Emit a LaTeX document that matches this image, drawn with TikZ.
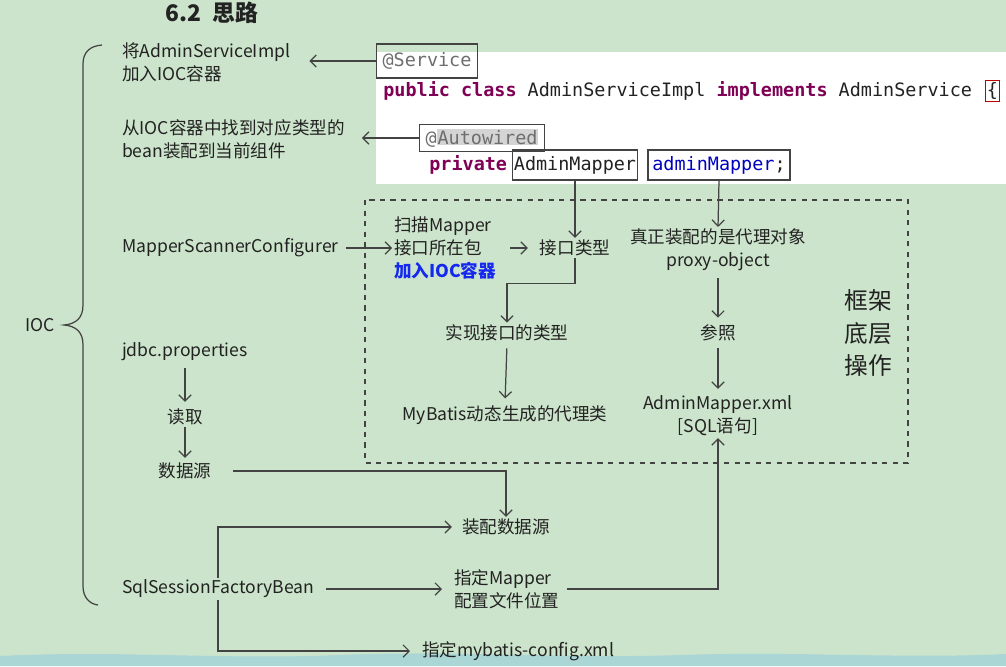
\documentclass[tikz,border=0pt]{standalone}
\usepackage{fontspec}
\setmainfont{Noto Sans CJK SC}
\setmonofont{DejaVu Sans Mono}
\usetikzlibrary{positioning,arrows.meta}

\definecolor{bggreen}{RGB}{204,228,203}
\definecolor{bandblue}{RGB}{170,214,214}
\definecolor{ink}{RGB}{34,34,34}
\definecolor{kwred}{RGB}{127,0,85}
\definecolor{anngray}{RGB}{110,110,110}
\definecolor{selgray}{RGB}{212,212,212}
\definecolor{varblue}{RGB}{0,0,192}
\definecolor{linkblue}{RGB}{20,40,240}

\newcommand{\kw}[1]{\textcolor{kwred}{\bfseries #1}}

\begin{document}
\begin{tikzpicture}[x=0.02cm, y=-0.02cm,
    txt/.style={inner sep=1pt, align=left, text=ink, font=\fontsize{10}{13}\selectfont},
    code/.style={inner sep=0pt, text=ink, font=\ttfamily\fontsize{10.5}{12}\selectfont},
    codebox/.style={code, draw=ink!85, line width=0.7pt, minimum height=0.6cm},
    line/.style={draw=ink!85, line width=0.7pt},
    >={Straight Barb[length=3.5pt,width=7pt]}
]
    \clip (0,0) rectangle (1006,666);

    % Background, code panel and bottom band
    \fill[bggreen] (0,0) rectangle (1006,666);
    \fill[white] (376,52) rectangle (1006,184);
    \fill[bandblue] (0,666) -- (0,656) .. controls (120,650) and (220,660) .. (340,655)
        .. controls (460,650) and (560,659) .. (680,655)
        .. controls (800,651) and (900,659) .. (1006,654) -- (1006,666) -- cycle;

    % Title
    \node[text=ink, font=\bfseries\fontsize{13}{15}\selectfont] (title) at (212,13) {6.2\enspace 思路};

    % Code
    \node[codebox, minimum width=2.02cm, minimum height=0.68cm] (svc) at (427,61)
        {\textcolor{anngray}{@Service}};
    \node[code, anchor=west] (cls) at (383,91)
        {\kw{public class} AdminServiceImpl \kw{implements} AdminService};
    \node[code, draw=red!75!black, line width=0.6pt, inner sep=1pt, right=7pt of cls] (lbrace) {\{};
    \node[codebox, minimum width=2.5cm, minimum height=0.54cm] (autow) at (482,138)
        {\textcolor{anngray}{@{\fboxsep=0.5pt\colorbox{selgray}{Autowired}}}};
    \node[code, anchor=west] (priv) at (429,165) {\kw{private}};
    \node[codebox, minimum width=2.5cm] (mtype) at (575,165) {AdminMapper};
    \node[codebox, minimum width=2.84cm] (mvar) at (719,165) {\textcolor{varblue}{adminMapper};};

    % IOC brace
    \node[txt] (ioc) at (40,325) {IOC};
    \draw[line] (102,45) .. controls (90,46) and (83,52) .. (83,64) -- (83,305)
        .. controls (83,318) and (76,324) .. (64,325)
        .. controls (76,326) and (83,332) .. (83,345) -- (83,586)
        .. controls (83,598) and (90,604) .. (98,605);

    % Left column
    \node[txt, anchor=west] (addsvc) at (120,62) {将AdminServiceImpl\\加入IOC容器};
    \node[txt, anchor=west] (findbean) at (120,139) {从IOC容器中找到对应类型的\\bean装配到当前组件};
    \node[txt, anchor=west] (msc) at (120,248) {MapperScannerConfigurer};
    \node[txt, anchor=west] (jdbc) at (120,352) {jdbc.properties};
    \node[txt] (read) at (185,417) {读取};
    \node[txt] (ds) at (185,471) {数据源};
    \node[txt, anchor=west] (sqlf) at (120,589) {SqlSessionFactoryBean};

    % Framework box
    \draw[line, dashed, line width=0.6pt] (365,200) rectangle (908,463);
    \node[txt, anchor=west] (scan) at (392,248)
        {扫描Mapper\\接口所在包\\\textcolor{linkblue}{\bfseries 加入IOC容器}};
    \node[txt] (itype) at (575,248) {接口类型};
    \node[txt] (impl) at (507,333) {实现接口的类型};
    \node[txt] (dyn) at (505,415) {MyBatis动态生成的代理类};
    \node[txt, align=center] (proxy) at (718,250) {真正装配的是代理对象\\proxy-object};
    \node[txt] (ref) at (718,333) {参照};
    \node[txt, align=center] (xml) at (718,416) {AdminMapper.xml\\{[}SQL语句{]}};
    \node[txt, align=center, font=\fontsize{13.5}{18.5}\selectfont] (frame) at (868,333) {框架\\底层\\操作};

    % Bottom
    \node[txt] (setds) at (506,527) {装配数据源};
    \node[txt, anchor=west] (mloc) at (452,589) {指定Mapper\\配置文件位置};
    \node[txt, anchor=west] (mbcfg) at (420,651) {指定mybatis-config.xml};

    % Edges
    \draw[line, ->, shorten >=0.34cm] (svc.west) -- (svc.west -| addsvc.east);
    \draw[line, ->, shorten >=0.3cm] (autow.west) -- (autow.west -| findbean.east);
    \draw[line, ->, shorten <=0.1cm] (msc.east) -- (scan.west);
    \draw[line, ->, shorten <=0.24cm, shorten >=0.2cm] (scan.east) -- (itype.west);
    \draw[line, ->] (mtype.south) -- (itype.north);
    \draw[line, ->] (mvar.south) -- (proxy.north);
    \draw[line, ->] (itype.south) -- ++(0,25) -| (impl.north);
    \draw[line, ->, shorten <=0.1cm, shorten >=0.1cm] (impl.south) -- (dyn.north);
    \draw[line, ->, shorten <=0.1cm, shorten >=0.1cm] (proxy.south) -- (ref.north);
    \draw[line, ->, shorten <=0.1cm, shorten >=0.1cm] (ref.south) -- (xml.north);
    \draw[line, ->, shorten <=0.1cm, shorten >=0.1cm] (jdbc.south -| read) -- (read.north);
    \draw[line, ->, shorten >=0.06cm] (read.south) -- (ds.north);
    \draw[line, ->, shorten <=0.4cm] (ds.east) -| (setds.north);
    \draw[line, ->, shorten >=0.16cm] (sqlf.north) |- (setds.west);
    \draw[line, ->, shorten <=0.2cm, shorten >=0.2cm] (sqlf.east) -- (mloc.west);
    \draw[line, ->, shorten <=0.1cm] (mloc.east) -| (xml.south);
    \draw[line, ->, shorten >=0.2cm] (sqlf.south) |- (mbcfg.west);
\end{tikzpicture}
\end{document}
